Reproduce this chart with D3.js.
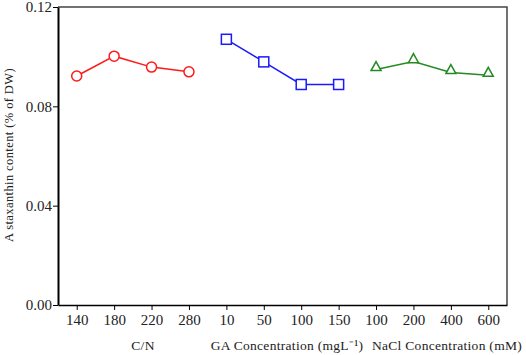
<!DOCTYPE html>
<html lang="en">
<head>
  <meta charset="UTF-8">
  <title>Astaxanthin content</title>
  <script src="https://d3js.org/d3.v7.min.js"></script>
  <style>
    body { margin: 0; background: white; }
    svg { display: block; }
    text { font-family: "Liberation Serif", "Times New Roman", serif; fill: #222; }
  </style>
</head>
<body>
<svg width="526" height="355"></svg>
<script>
  // tick labels along x, in plotting order
  const tickLabels = ["140", "180", "220", "280", "10", "50", "100", "150", "100", "200", "400", "600"];
  const yTicks = [0, 0.04, 0.08, 0.12];

  // series values
  const cnValues = [0.0922, 0.1002, 0.0958, 0.0939];
  const gaValues = [0.1070, 0.0979, 0.0888, 0.0888];
  const naclValues = [0.0948, 0.0980, 0.0936, 0.0925];

  const groupTitles = ["C/N", "GA Concentration (mgL\u207B\u00B9)", "NaCl Concentration (mM)"];

  const svg = d3.select("svg"),
        margin = { top: 7, right: 19, bottom: 50, left: 58 },
        width = +svg.attr("width") - margin.left - margin.right,
        height = +svg.attr("height") - margin.top - margin.bottom,
        chart = svg.append("g").attr("transform", `translate(${margin.left},${margin.top})`);

  const x = d3.scaleLinear().domain([-0.5, tickLabels.length - 0.5]).range([0, width]);
  const y = d3.scaleLinear().domain([0, 0.12]).range([height, 0]);

  // frame (top and right)
  chart.append("path")
    .attr("d", `M0,0H${width}V${height}`)
    .attr("fill", "none")
    .attr("stroke", "#444")
    .attr("stroke-width", 1.5);

  // y axis
  const yAxis = chart.append("g")
    .call(d3.axisLeft(y).tickValues(yTicks).tickFormat(d3.format(".2f")).tickSize(5).tickSizeOuter(0));
  yAxis.select(".domain").attr("stroke-width", 2);
  yAxis.selectAll("text").style("font-size", "15px").attr("x", -6);

  // x axis
  const xAxis = chart.append("g")
    .attr("transform", `translate(0,${height})`)
    .call(d3.axisBottom(x).tickValues(d3.range(tickLabels.length)).tickFormat(i => tickLabels[i]).tickSize(5).tickSizeOuter(0));
  xAxis.select(".domain").attr("stroke-width", 1.5);
  xAxis.selectAll("text").style("font-size", "15px").attr("y", 9);

  // y axis title
  svg.append("text")
    .attr("transform", "translate(13,155) rotate(-90)")
    .attr("text-anchor", "middle")
    .style("font-size", "12.5px")
    .style("letter-spacing", "0.4px")
    .text("A staxanthin content (% of DW)");

  // group titles
  const titleX = [143, 287, 447];
  groupTitles.forEach((t, i) => {
    svg.append("text")
      .attr("x", titleX[i])
      .attr("y", 350)
      .attr("text-anchor", "middle")
      .style("font-size", "13.5px")
      .style("letter-spacing", "0.3px")
      .text(t);
  });

  const line = d3.line().x(d => x(d.i)).y(d => y(d.v));

  const series = [
    { values: cnValues, start: 0, color: "#ff1a1a", shape: "circle" },
    { values: gaValues, start: 4, color: "#1a1aff", shape: "square" },
    { values: naclValues, start: 8, color: "#228b22", shape: "triangle" }
  ];

  series.forEach(s => {
    const pts = s.values.map((v, k) => ({ i: s.start + k, v: v }));
    chart.append("path")
      .datum(pts)
      .attr("d", line)
      .attr("fill", "none")
      .attr("stroke", s.color)
      .attr("stroke-width", 1.5);

    const g = chart.append("g");
    pts.forEach(p => {
      const cx = x(p.i), cy = y(p.v);
      if (s.shape === "circle") {
        g.append("circle").attr("cx", cx).attr("cy", cy).attr("r", 5)
          .attr("fill", "white").attr("stroke", s.color).attr("stroke-width", 1.5);
      } else if (s.shape === "square") {
        g.append("rect").attr("x", cx - 5).attr("y", cy - 5).attr("width", 10).attr("height", 10)
          .attr("fill", "white").attr("stroke", s.color).attr("stroke-width", 1.5);
      } else {
        g.append("path").attr("d", `M${cx},${cy - 8}L${cx + 5},${cy + 1}L${cx - 5},${cy + 1}Z`)
          .attr("fill", "white").attr("stroke", s.color).attr("stroke-width", 1.5);
      }
    });
  });
</script>
</body>
</html>
